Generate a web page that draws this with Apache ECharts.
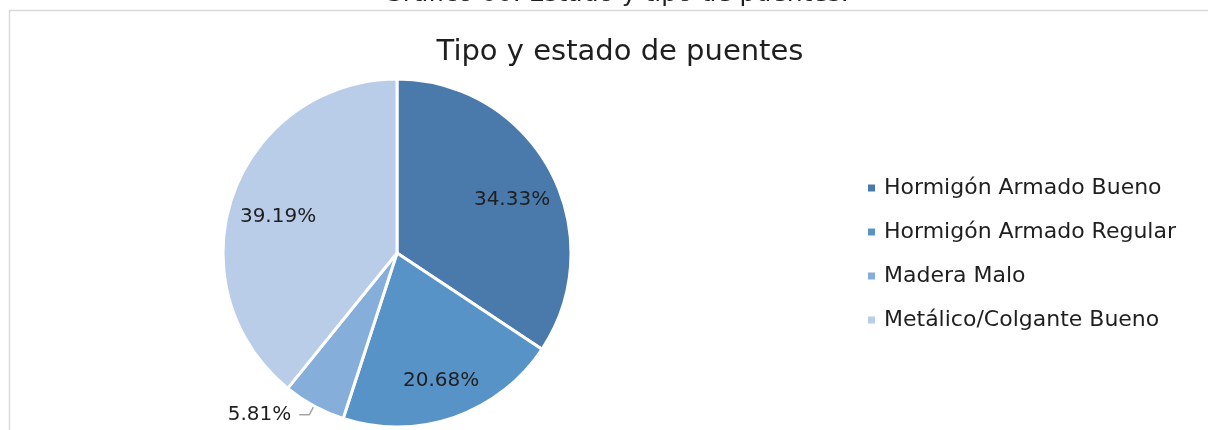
<!DOCTYPE html>
<html>
<head>
<meta charset="utf-8">
<title>Tipo y estado de puentes</title>
<script src="https://cdn.jsdelivr.net/npm/echarts@6/dist/echarts.min.js"></script>
<style>
  html, body { margin: 0; padding: 0; background: #ffffff; }
  #chart { width: 1208px; height: 430px; }
</style>
</head>
<body>
<div id="chart"></div>
<script>
// Bridge types and their condition, share of total (%)
const categories = [
  'Hormigón Armado Bueno',
  'Hormigón Armado Regular',
  'Madera Malo',
  'Metálico/Colgante Bueno'
];
const shares = [34.33, 20.68, 5.81, 39.19];
const palette = ['#4a7aab', '#5893c8', '#85aedb', '#b9cde8'];

const captionText = 'Gráfico 60. Estado y tipo de puentes.';
const chartTitle = 'Tipo y estado de puentes';

const FONT = '"DejaVu Sans", "Noto Sans", sans-serif';
const TEXT_COLOR = '#1f1f1f';
const CENTER = [397, 253];
const RADIUS = 174;

// Small slices get their label outside with a leader line
const outsideIdx = shares.map((v, i) => (v < 10 ? i : -1)).filter(i => i >= 0);

const fmt = p => p.value.toFixed(2) + '%';

const sliceData = categories.map((name, i) => ({
  name,
  value: shares[i],
  itemStyle: { color: palette[i] },
  label: { show: outsideIdx.includes(i) },
  labelLine: { show: outsideIdx.includes(i) }
}));

// Invisible ring that only carries the in-slice percentage labels
const labelData = categories.map((name, i) => ({
  name,
  value: shares[i],
  label: { show: !outsideIdx.includes(i) }
}));

const chart = echarts.init(document.getElementById('chart'), null, { renderer: 'canvas' });

chart.setOption({
  animation: false,
  backgroundColor: '#ffffff',
  title: {
    text: chartTitle,
    left: 615,
    top: 33,
    textAlign: 'center',
    textStyle: { fontFamily: FONT, fontSize: 29, fontWeight: 'normal', color: TEXT_COLOR }
  },
  legend: {
    orient: 'vertical',
    left: 861,
    top: 171,
    data: categories,
    icon: 'rect',
    itemWidth: 9,
    itemHeight: 9,
    itemGap: 20,
    selectedMode: false,
    textStyle: {
      fontFamily: FONT,
      fontSize: 22,
      color: TEXT_COLOR,
      lineHeight: 24,
      padding: [0, 0, 0, 3]
    }
  },
  graphic: [
    {
      type: 'rect',
      silent: true,
      z: -1,
      shape: { x: 9.5, y: 10.5, width: 1300, height: 500 },
      style: { fill: 'none', stroke: '#d9d9d9', lineWidth: 1.5 }
    },
    {
      type: 'text',
      silent: true,
      x: 616,
      y: 7,
      style: {
        text: captionText,
        fontFamily: FONT,
        fontSize: 25,
        fill: TEXT_COLOR,
        textAlign: 'center',
        textVerticalAlign: 'bottom'
      }
    }
  ],
  series: [
    {
      type: 'pie',
      name: chartTitle,
      center: CENTER,
      radius: [0, RADIUS],
      startAngle: 90,
      clockwise: true,
      avoidLabelOverlap: false,
      data: sliceData,
      itemStyle: { borderColor: '#ffffff', borderWidth: 3 },
      emphasis: { disabled: true },
      label: {
        position: 'outside',
        formatter: fmt,
        fontFamily: FONT,
        fontSize: 20,
        color: TEXT_COLOR,
        distanceToLabelLine: 8
      },
      labelLine: {
        length: 10,
        length2: 10,
        lineStyle: { color: '#a6a6a6', width: 1.5 }
      }
    },
    {
      type: 'pie',
      name: 'labels',
      center: CENTER,
      radius: [RADIUS * 0.58, RADIUS * 0.86],
      startAngle: 90,
      clockwise: true,
      silent: true,
      data: labelData,
      itemStyle: { color: 'rgba(0,0,0,0)' },
      emphasis: { disabled: true },
      labelLine: { show: false },
      label: {
        position: 'inside',
        formatter: fmt,
        fontFamily: FONT,
        fontSize: 20,
        color: TEXT_COLOR,
        offset: [2, 7]
      }
    }
  ]
});
</script>
</body>
</html>
